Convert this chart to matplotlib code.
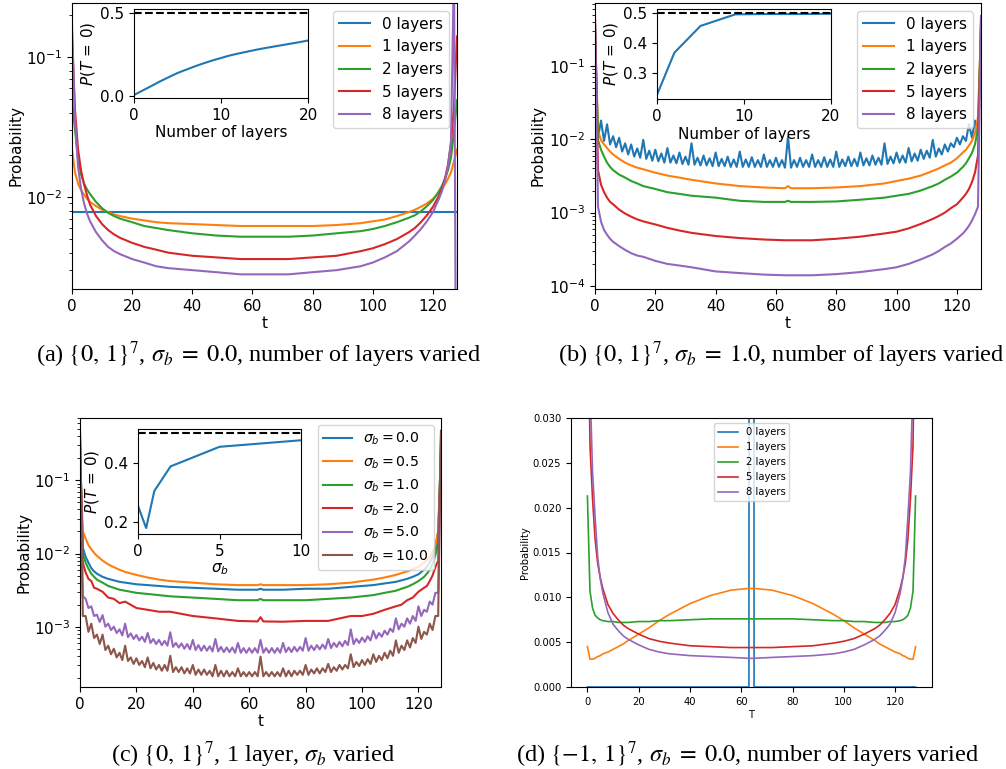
import matplotlib.pyplot as plt

plt.rcParams['font.family'] = 'DejaVu Sans'
plt.rcParams['font.size'] = 11

layer_labels = ['0 layers', '1 layers', '2 layers', '5 layers', '8 layers']
sigma_labels = [r'$\sigma_b = 0.0$', r'$\sigma_b = 0.5$', r'$\sigma_b = 1.0$',
                r'$\sigma_b = 2.0$', r'$\sigma_b = 5.0$', r'$\sigma_b = 10.0$']

# common t grid for the smooth curves
t_grid = [0, 1, 2, 3, 4, 5, 6, 8, 10, 12, 14, 16, 20, 24, 28, 32, 40, 48, 56, 63, 64, 65,
          72, 80, 88, 96, 100, 104, 108, 112, 114, 116, 118, 120, 122, 123, 124, 125, 126, 127, 128]
t_full = list(range(129))
t_flat = [0, 32, 64, 96, 128]

# ---- (a) {0,1}^7, sigma_b = 0.0
a_0 = [0.00775, 0.00775, 0.00775, 0.00775, 0.00775]
a_1 = [0.0218, 0.0150, 0.0125, 0.0112, 0.0104, 0.0097, 0.0092, 0.0086, 0.0081, 0.0078, 0.0075, 0.0073,
       0.0070, 0.0068, 0.0066, 0.0065, 0.0064, 0.0063, 0.0062, 0.0062, 0.0062, 0.0062,
       0.0062, 0.0062, 0.0063, 0.0065, 0.0067, 0.0069, 0.0073, 0.0078, 0.0081, 0.0085, 0.0090, 0.0097,
       0.0107, 0.0114, 0.0123, 0.0135, 0.0150, 0.0180, 0.0218]
a_2 = [0.049, 0.030, 0.019, 0.0145, 0.0125, 0.0113, 0.0105, 0.0092, 0.0083, 0.0077, 0.0073, 0.0070,
       0.0066, 0.0062, 0.0060, 0.0058, 0.0055, 0.0053, 0.0052, 0.0052, 0.0052, 0.0052,
       0.0052, 0.0053, 0.0055, 0.0057, 0.0059, 0.0062, 0.0066, 0.0071, 0.0074, 0.0079, 0.0086, 0.0095,
       0.0110, 0.0120, 0.0135, 0.0155, 0.019, 0.029, 0.049]
a_5 = [0.14, 0.042, 0.022, 0.0155, 0.0123, 0.0103, 0.0088, 0.0073, 0.0064, 0.0058, 0.0054, 0.0051,
       0.0047, 0.0044, 0.0042, 0.0040, 0.0038, 0.0037, 0.0036, 0.0036, 0.0036, 0.0036,
       0.0036, 0.0037, 0.0038, 0.0041, 0.0043, 0.0046, 0.0050, 0.0056, 0.0060, 0.0066, 0.0074, 0.0085,
       0.0102, 0.0115, 0.0135, 0.017, 0.024, 0.045, 0.14]
a_8 = [0.17, 0.035, 0.0165, 0.0115, 0.0090, 0.0076, 0.0067, 0.0056, 0.0049, 0.0044, 0.0041, 0.0039,
       0.0036, 0.0034, 0.0032, 0.0031, 0.0030, 0.0029, 0.0028, 0.0028, 0.0028, 0.0028,
       0.0028, 0.0029, 0.0030, 0.0032, 0.0034, 0.0037, 0.0041, 0.0048, 0.0053, 0.0059, 0.0067, 0.0078,
       0.0097, 0.011, 0.0130, 0.0165, 0.025, 0.45, 1e-5]
a_inset_layers = list(range(21))
a_inset_p = [0.008, 0.035, 0.062, 0.09, 0.115, 0.14, 0.16, 0.18, 0.198, 0.215, 0.23, 0.245, 0.257,
             0.268, 0.279, 0.289, 0.298, 0.307, 0.316, 0.325, 0.335]

# ---- (b) {0,1}^7, sigma_b = 1.0
b_0 = [0.225, 0.0105, 0.018, 0.0095, 0.016, 0.0085, 0.011, 0.0078, 0.0105, 0.0068, 0.0088, 0.0062,
       0.0085, 0.0058, 0.0075, 0.0056, 0.0098, 0.0054, 0.007, 0.0051, 0.0072, 0.005, 0.0064, 0.0048,
       0.0076, 0.0048, 0.006, 0.0047, 0.0066, 0.0046, 0.0058, 0.0045, 0.0088, 0.0045, 0.0056, 0.0044,
       0.006, 0.0044, 0.0055, 0.0043, 0.0066, 0.0043, 0.0054, 0.0043, 0.0058, 0.0042, 0.0053, 0.0042,
       0.0068, 0.0042, 0.0053, 0.0042, 0.0057, 0.0042, 0.0052, 0.0042, 0.0062, 0.0042, 0.0052, 0.0042,
       0.0056, 0.0042, 0.0052, 0.0041, 0.0108, 0.0041, 0.0052, 0.0042, 0.0056, 0.0042, 0.0052, 0.0042,
       0.0062, 0.0042, 0.0052, 0.0042, 0.0057, 0.0042, 0.0053, 0.0042, 0.0068, 0.0042, 0.0053, 0.0043,
       0.0058, 0.0043, 0.0054, 0.0043, 0.0066, 0.0044, 0.0055, 0.0044, 0.006, 0.0045, 0.0056, 0.0045,
       0.0088, 0.0046, 0.0058, 0.0047, 0.0066, 0.0048, 0.006, 0.0048, 0.0076, 0.005, 0.0064, 0.0051,
       0.0072, 0.0054, 0.007, 0.0056, 0.0098, 0.0058, 0.0075, 0.0062, 0.0085, 0.0068, 0.0088, 0.0078,
       0.0105, 0.0085, 0.011, 0.0095, 0.016, 0.0105, 0.018, 0.012, 0.225]
b_1 = [0.30, 0.013, 0.0097, 0.0085, 0.0076, 0.0068, 0.0062, 0.0054, 0.0048, 0.0044, 0.0041, 0.0039,
       0.0035, 0.0032, 0.0030, 0.0028, 0.0025, 0.0023, 0.0022, 0.00215, 0.0023, 0.00215,
       0.00215, 0.0022, 0.0023, 0.0025, 0.0027, 0.0029, 0.0032, 0.0037, 0.0040, 0.0044, 0.0048, 0.0055,
       0.0066, 0.0072, 0.0082, 0.0095, 0.012, 0.02, 0.30]
b_2 = [0.367, 0.0097, 0.0072, 0.0058, 0.0048, 0.0042, 0.0038, 0.0033, 0.0030, 0.0027, 0.0025, 0.0023,
       0.0021, 0.0019, 0.0018, 0.0017, 0.0016, 0.00145, 0.0014, 0.0014, 0.00145, 0.0014,
       0.0014, 0.00142, 0.0015, 0.0016, 0.0017, 0.0018, 0.0020, 0.0023, 0.0025, 0.0028, 0.0031, 0.0035,
       0.0042, 0.0047, 0.0055, 0.0065, 0.0085, 0.014, 0.367]
b_5 = [0.457, 0.0038, 0.0024, 0.0019, 0.0016, 0.0014, 0.0013, 0.0011, 0.00097, 0.00088, 0.00081, 0.00076,
       0.00069, 0.00062, 0.00057, 0.00053, 0.00048, 0.00045, 0.00043, 0.00042, 0.00042, 0.00042,
       0.00042, 0.00044, 0.00047, 0.00052, 0.00055, 0.00061, 0.0007, 0.00082, 0.0009, 0.001, 0.00115, 0.0013,
       0.0016, 0.0018, 0.0021, 0.0026, 0.0035, 0.006, 0.457]
b_8 = [0.48, 0.0012, 0.00075, 0.00058, 0.0005, 0.00044, 0.0004, 0.00035, 0.00031, 0.00028, 0.00026, 0.00025,
       0.00022, 0.0002, 0.00019, 0.00018, 0.000158, 0.00015, 0.000143, 0.00014, 0.00014, 0.00014,
       0.00014, 0.000145, 0.000155, 0.00017, 0.00018, 0.0002, 0.00023, 0.00027, 0.0003, 0.00034, 0.00038, 0.00044,
       0.00052, 0.00058, 0.00066, 0.00078, 0.00095, 0.0012, 0.48]
b_inset_layers = [0, 2, 5, 9, 12, 16, 20]
b_inset_p = [0.225, 0.367, 0.457, 0.496, 0.497, 0.497, 0.498]

# ---- (c) {0,1}^7, 1 layer, sigma_b varied
c_00 = [0.256, 0.012, 0.0090, 0.0075, 0.0063, 0.0057, 0.0053, 0.0048, 0.0045, 0.0043, 0.0041, 0.0040,
        0.0038, 0.0037, 0.0036, 0.0035, 0.0034, 0.0033, 0.0032, 0.0032, 0.0033, 0.0032,
        0.0032, 0.0033, 0.0033, 0.0035, 0.0036, 0.0037, 0.0039, 0.0041, 0.0043, 0.0045, 0.0048, 0.0052,
        0.0060, 0.0066, 0.0075, 0.0090, 0.012, 0.02, 0.256]
c_05 = [0.181, 0.020, 0.016, 0.013, 0.0115, 0.0102, 0.0093, 0.0080, 0.0071, 0.0065, 0.0060, 0.0056,
        0.0051, 0.0047, 0.0044, 0.0042, 0.0040, 0.0038, 0.0037, 0.0037, 0.0038, 0.0037,
        0.0037, 0.0037, 0.0038, 0.0040, 0.0042, 0.0044, 0.0047, 0.0051, 0.0054, 0.0057, 0.0061, 0.0066,
        0.0075, 0.0081, 0.0090, 0.0105, 0.013, 0.02, 0.181]
c_10 = [0.306, 0.010, 0.0075, 0.0062, 0.0053, 0.0048, 0.0044, 0.0040, 0.0036, 0.0034, 0.0032, 0.0031,
        0.0029, 0.0028, 0.0027, 0.0026, 0.0025, 0.0024, 0.0023, 0.0023, 0.0024, 0.0023,
        0.0023, 0.0023, 0.0024, 0.0025, 0.0026, 0.0027, 0.0029, 0.0031, 0.0033, 0.0035, 0.0038, 0.0042,
        0.0048, 0.0053, 0.0060, 0.0072, 0.0095, 0.014, 0.306]
c_20 = [0.389, 0.0075, 0.0055, 0.0045, 0.0042, 0.0034, 0.0033, 0.0030, 0.0025, 0.0024, 0.0021, 0.0022,
        0.0018, 0.0017, 0.0016, 0.0016, 0.0014, 0.0013, 0.0012, 0.00118, 0.00135, 0.00118,
        0.00117, 0.0012, 0.0012, 0.0014, 0.0014, 0.0015, 0.0017, 0.0019, 0.0020, 0.0023, 0.0025, 0.0030,
        0.0034, 0.0036, 0.0042, 0.0050, 0.0065, 0.008, 0.389]
c_50 = [0.455, 0.0026, 0.0024, 0.0018, 0.0019, 0.0014, 0.00146, 0.00116, 0.00144, 0.001, 0.0011, 0.0009,
        0.001, 0.00082, 0.00092, 0.00076, 0.0011, 0.00072, 0.00081, 0.00068, 0.00077, 0.00065, 0.00073, 0.00062,
        0.00082, 0.0006, 0.00068, 0.00058, 0.00066, 0.00056, 0.00064, 0.00055, 0.00084, 0.00053, 0.0006, 0.00052,
        0.00059, 0.0005, 0.00058, 0.00049, 0.00066, 0.00048, 0.00056, 0.00047, 0.00055, 0.00047, 0.00054, 0.00046,
        0.00068, 0.00046, 0.00053, 0.00045, 0.00052, 0.00045, 0.00052, 0.00044, 0.0006, 0.00044, 0.00051, 0.00044,
        0.00051, 0.00044, 0.00051, 0.00044, 0.00066, 0.00044, 0.00051, 0.00044, 0.00051, 0.00044, 0.00051, 0.00044,
        0.0006, 0.00045, 0.00052, 0.00045, 0.00053, 0.00046, 0.00053, 0.00047, 0.0007, 0.00047, 0.00055, 0.00048,
        0.00056, 0.00049, 0.00057, 0.0005, 0.00068, 0.00051, 0.0006, 0.00053, 0.00062, 0.00054, 0.00064, 0.00056,
        0.00092, 0.00058, 0.00068, 0.0006, 0.00071, 0.00062, 0.00074, 0.00065, 0.00088, 0.00069, 0.00082, 0.00073,
        0.00088, 0.00078, 0.00094, 0.00085, 0.0013, 0.00092, 0.0011, 0.001, 0.0013, 0.0011, 0.0014, 0.0012,
        0.0019, 0.0014, 0.0017, 0.0016, 0.0022, 0.002, 0.0029, 0.0029, 0.455]
c_100 = [0.477, 0.0014, 0.0014, 0.00085, 0.0011, 0.0007, 0.00078, 0.00058, 0.00078, 0.00048, 0.00055, 0.00042,
         0.0005, 0.00038, 0.00044, 0.00035, 0.00055, 0.00034, 0.00038, 0.00031, 0.00037, 0.0003, 0.00034, 0.00028,
         0.00038, 0.00027, 0.00032, 0.00026, 0.0003, 0.00025, 0.0003, 0.00025, 0.0004, 0.00024, 0.00028, 0.00024,
         0.00028, 0.00023, 0.00027, 0.00023, 0.0003, 0.00022, 0.00026, 0.00022, 0.00026, 0.00022, 0.00025, 0.00021,
         0.0003, 0.00021, 0.00025, 0.00021, 0.00025, 0.00021, 0.00024, 0.00021, 0.00027, 0.00021, 0.00024, 0.00021,
         0.00024, 0.00021, 0.00024, 0.00021, 0.00039, 0.00021, 0.00024, 0.00021, 0.00024, 0.00021, 0.00024, 0.00021,
         0.00027, 0.00021, 0.00025, 0.00021, 0.00025, 0.00022, 0.00025, 0.00022, 0.0003, 0.00022, 0.00026, 0.00023,
         0.00027, 0.00023, 0.00027, 0.00024, 0.00031, 0.00024, 0.00028, 0.00025, 0.0003, 0.00026, 0.0003, 0.00027,
         0.00042, 0.00028, 0.00033, 0.00029, 0.00035, 0.0003, 0.00036, 0.00031, 0.00042, 0.00033, 0.0004, 0.00035,
         0.00044, 0.00037, 0.00047, 0.0004, 0.00065, 0.00044, 0.00055, 0.00048, 0.00065, 0.00052, 0.0007, 0.0006,
         0.001, 0.00068, 0.00085, 0.00078, 0.0011, 0.0009, 0.0014, 0.0014, 0.477]
c_inset_sigma = [0.0, 0.5, 1.0, 2.0, 5.0, 10.0]
c_inset_p = [0.256, 0.181, 0.306, 0.389, 0.455, 0.477]

# ---- (d) {-1,1}^7, sigma_b = 0.0 (linear axis)
d_0 = [0.0, 0.0, 0.0, 0.0, 0.0, 0.0, 0.0, 0.0, 0.0, 0.0, 0.0, 0.0, 0.0, 0.0, 0.0, 0.0, 0.0, 0.0, 0.0,
       0.0, 1.0, 0.0,
       0.0, 0.0, 0.0, 0.0, 0.0, 0.0, 0.0, 0.0, 0.0, 0.0, 0.0, 0.0, 0.0, 0.0, 0.0, 0.0, 0.0, 0.0, 0.0]
d_1 = [0.0045, 0.0031, 0.0031, 0.0032, 0.0034, 0.0035, 0.0037, 0.0039, 0.0042, 0.0045, 0.0048, 0.0052,
       0.0059, 0.0066, 0.0074, 0.0081, 0.0093, 0.0102, 0.0108, 0.0110, 0.0110, 0.0110,
       0.0108, 0.0102, 0.0093, 0.0081, 0.0074, 0.0066, 0.0059, 0.0052, 0.0048, 0.0045, 0.0042, 0.0039,
       0.0037, 0.0035, 0.0034, 0.0032, 0.0031, 0.0031, 0.0045]
d_2 = [0.0213, 0.0107, 0.0088, 0.0080, 0.0077, 0.0075, 0.0074, 0.0073, 0.0073, 0.0072, 0.0072, 0.0072,
       0.0073, 0.0073, 0.0074, 0.0074, 0.0075, 0.0076, 0.0076, 0.0076, 0.0076, 0.0076,
       0.0076, 0.0076, 0.0075, 0.0074, 0.0074, 0.0073, 0.0073, 0.0072, 0.0072, 0.0072, 0.0073, 0.0073,
       0.0074, 0.0075, 0.0077, 0.0080, 0.0088, 0.0107, 0.0213]
d_5 = [0.05, 0.027, 0.021, 0.0165, 0.0138, 0.0122, 0.0110, 0.0092, 0.0082, 0.0075, 0.0069, 0.0065,
       0.0059, 0.0054, 0.0051, 0.0049, 0.0046, 0.0045, 0.0044, 0.0044, 0.0044, 0.0044,
       0.0044, 0.0045, 0.0046, 0.0049, 0.0051, 0.0054, 0.0059, 0.0065, 0.0069, 0.0075, 0.0082, 0.0092,
       0.0110, 0.0122, 0.0138, 0.0165, 0.021, 0.027, 0.05]
d_8 = [0.2, 0.034, 0.024, 0.019, 0.0145, 0.0121, 0.0105, 0.0083, 0.0070, 0.0063, 0.0057, 0.0053,
       0.0047, 0.0042, 0.0039, 0.0037, 0.0035, 0.0034, 0.0033, 0.0032, 0.0032, 0.0032,
       0.0033, 0.0034, 0.0035, 0.0037, 0.0039, 0.0042, 0.0047, 0.0053, 0.0057, 0.0063, 0.0070, 0.0083,
       0.0105, 0.0121, 0.0145, 0.019, 0.024, 0.034, 0.2]

W, H = 1006, 769


def box(left, top, right, bottom):
    # pixel box -> figure fraction
    return [left / W, 1 - bottom / H, (right - left) / W, (bottom - top) / H]


fig = plt.figure(figsize=(W / 100, H / 100), dpi=100)

# panel a
ax = fig.add_axes(box(72, 3, 457, 289))
ax.plot(t_flat, a_0, label=layer_labels[0])
for ys, lab in zip([a_1, a_2, a_5, a_8], layer_labels[1:]):
    ax.plot(t_grid, ys, label=lab)
ax.set_yscale('log')
ax.set_xlim(0, 128)
ax.set_ylim(0.0022, 0.243)
ax.set_xlabel('t', labelpad=2)
ax.set_ylabel('Probability', labelpad=2)
ax.legend(loc='upper right')

ins = fig.add_axes(box(134, 9, 308, 98))
ins.plot(a_inset_layers, a_inset_p)
ins.axhline(0.5, color='k', ls='--')
ins.set_xlim(0, 20)
ins.set_ylim(-0.01, 0.524)
ins.set_xticks([0, 10, 20])
ins.set_yticks([0.0, 0.5])
ins.set_xlabel('Number of layers', labelpad=2)
ins.set_ylabel(r'$P(T\,=\,0)$', labelpad=2)

# panel b
ax = fig.add_axes(box(595, 3, 981, 289))
ax.plot(t_full, b_0, label=layer_labels[0])
for ys, lab in zip([b_1, b_2, b_5, b_8], layer_labels[1:]):
    ax.plot(t_grid, ys, label=lab)
ax.set_yscale('log')
ax.set_xlim(0, 128)
ax.set_ylim(9.1e-5, 0.72)
ax.set_xlabel('t', labelpad=2)
ax.set_ylabel('Probability', labelpad=2)
ax.legend(loc='upper right')

ins = fig.add_axes(box(657, 9, 831, 99))
ins.plot(b_inset_layers, b_inset_p)
ins.axhline(0.5, color='k', ls='--')
ins.set_xlim(0, 20)
ins.set_ylim(0.211, 0.514)
ins.set_xticks([0, 10, 20])
ins.set_yticks([0.3, 0.4, 0.5])
ins.set_xlabel('Number of layers', labelpad=2)
ins.set_ylabel(r'$P(T\,=\,0)$', labelpad=2)

# panel c
ax = fig.add_axes(box(80, 418, 441, 687))
for ys, lab in zip([c_00, c_05, c_10, c_20], sigma_labels[:4]):
    ax.plot(t_grid, ys, label=lab)
ax.plot(t_full, c_50, label=sigma_labels[4])
ax.plot(t_full, c_100, label=sigma_labels[5])
ax.set_yscale('log')
ax.set_xlim(0, 128)
ax.set_ylim(1.5e-4, 0.71)
ax.set_xlabel('t', labelpad=2)
ax.set_ylabel('Probability', labelpad=2)
ax.legend(loc='upper right', fontsize=10.2)

ins = fig.add_axes(box(138, 429, 301, 534))
ins.plot(c_inset_sigma, c_inset_p)
ins.axhline(0.5, color='k', ls='--')
ins.set_xlim(0, 10)
ins.set_ylim(0.161, 0.515)
ins.set_xticks([0, 5, 10])
ins.set_yticks([0.2, 0.4])
ins.set_xlabel(r'$\sigma_b$', labelpad=2)
ins.set_ylabel(r'$P(T\,=\,0)$', labelpad=2)

# panel d
ax = fig.add_axes(box(571, 418, 932, 687))
for ys, lab in zip([d_0, d_1, d_2, d_5, d_8], layer_labels):
    ax.plot(t_grid, ys, label=lab, lw=1.2)
ax.set_xlim(-6.4, 134.4)
ax.set_ylim(0, 0.03)
ax.set_xticks([0, 20, 40, 60, 80, 100, 120])
ax.tick_params(labelsize=7.2)
ax.set_xlabel('T', fontsize=7.2, labelpad=2)
ax.set_ylabel('Probability', fontsize=7.2, labelpad=2)
ax.legend(loc='upper center', fontsize=7.2)

# captions
cap = dict(ha='center', va='center', fontsize=17.5, family='Liberation Serif', math_fontfamily='stix')
fig.text(259 / W, 1 - 355 / H, r'(a) $\{0,\,1\}^7$, $\sigma_b\;=\;0.0$, number of layers varied', **cap)
fig.text(781 / W, 1 - 355 / H, r'(b) $\{0,\,1\}^7$, $\sigma_b\;=\;1.0$, number of layers varied', **cap)
fig.text(253 / W, 1 - 755 / H, r'(c) $\{0,\,1\}^7$, 1 layer, $\sigma_b$ varied', **cap)
fig.text(748 / W, 1 - 755 / H, r'(d) $\{-1,\,1\}^7$, $\sigma_b\;=\;0.0$, number of layers varied', **cap)

fig.savefig('out.png', dpi=100)
